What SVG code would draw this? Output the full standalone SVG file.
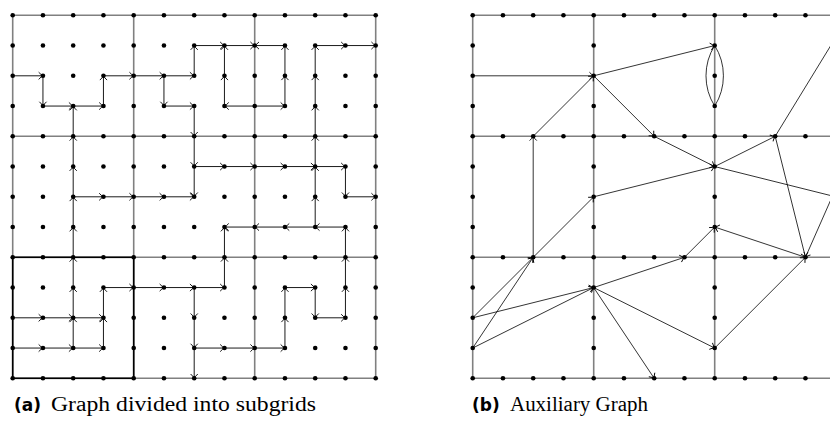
<svg xmlns="http://www.w3.org/2000/svg" width="830" height="424" viewBox="0 0 830 424">
<style>
.g{stroke:#808080;stroke-width:1.6;fill:none}
.bx{stroke:#000;stroke-width:1.6;fill:none}
.e line{stroke:#000;stroke-width:0.9;marker-end:url(#ar)}
.f line,.f path{stroke:#000;stroke-width:0.8;fill:none}
.f .a{marker-end:url(#ar)}
.n circle{fill:#000}
.cs{font-family:"DejaVu Sans","Liberation Sans",sans-serif;font-weight:bold;font-size:17px}
.ct{font-family:"Liberation Serif","DejaVu Serif",serif;font-size:20px}
</style>
<defs>
<marker id="ar" markerUnits="userSpaceOnUse" markerWidth="12" markerHeight="12" viewBox="-6 -6 12 12" refX="0" refY="0" orient="auto">
<path d="M-4.3,-3.6 Q-1.6,-0.7 0,0 Q-1.6,0.7 -4.3,3.6" fill="none" stroke="#000" stroke-width="0.9"/>
</marker>
</defs>
<!-- left grid subgrid lines -->
<g id="gridA">
<path class="g" d="M12.7,15.3H375.7M12.7,136.3H375.7M12.7,257.3H375.7M12.7,378.3H375.7M12.7,15.3V378.3M133.7,15.3V378.3M254.7,15.3V378.3M375.7,15.3V378.3"/>
<rect class="bx" x="12.7" y="257.3" width="121" height="121"/>
</g>
<!-- right grid subgrid lines -->
<g id="gridB">
<path class="g" d="M472.7,15.3H836M472.7,136.3H836M472.7,257.3H836M472.7,378.3H836M472.7,15.3V378.3M593.7,15.3V378.3M714.7,15.3V378.3"/>
</g>
<!-- left connectors -->
<g id="edgesA" class="e">
<line x1="12.7" y1="75.8" x2="42.95" y2="75.8"/>
<line x1="42.95" y1="75.8" x2="42.95" y2="106.05"/>
<line x1="42.95" y1="106.05" x2="73.2" y2="106.05"/>
<line x1="73.2" y1="106.05" x2="103.45" y2="106.05"/>
<line x1="103.45" y1="106.05" x2="103.45" y2="75.8"/>
<line x1="103.45" y1="75.8" x2="133.7" y2="75.8"/>
<line x1="133.7" y1="75.8" x2="163.95" y2="75.8"/>
<line x1="163.95" y1="75.8" x2="194.2" y2="75.8"/>
<line x1="163.95" y1="75.8" x2="163.95" y2="106.05"/>
<line x1="163.95" y1="106.05" x2="194.2" y2="106.05"/>
<line x1="194.2" y1="75.8" x2="194.2" y2="45.55"/>
<line x1="194.2" y1="45.55" x2="224.45" y2="45.55"/>
<line x1="224.45" y1="45.55" x2="254.7" y2="45.55"/>
<line x1="284.95" y1="45.55" x2="254.7" y2="45.55"/>
<line x1="224.45" y1="75.8" x2="224.45" y2="45.55"/>
<line x1="224.45" y1="106.05" x2="224.45" y2="75.8"/>
<line x1="254.7" y1="106.05" x2="224.45" y2="106.05"/>
<line x1="254.7" y1="106.05" x2="284.95" y2="106.05"/>
<line x1="284.95" y1="106.05" x2="284.95" y2="75.8"/>
<line x1="284.95" y1="75.8" x2="284.95" y2="45.55"/>
<line x1="315.2" y1="227.05" x2="315.2" y2="196.8"/>
<line x1="315.2" y1="196.8" x2="315.2" y2="166.55"/>
<line x1="315.2" y1="166.55" x2="315.2" y2="136.3"/>
<line x1="315.2" y1="136.3" x2="315.2" y2="106.05"/>
<line x1="315.2" y1="106.05" x2="315.2" y2="75.8"/>
<line x1="315.2" y1="75.8" x2="315.2" y2="45.55"/>
<line x1="315.2" y1="45.55" x2="345.45" y2="45.55"/>
<line x1="345.45" y1="45.55" x2="375.7" y2="45.55"/>
<line x1="73.2" y1="348.05" x2="73.2" y2="317.8"/>
<line x1="73.2" y1="317.8" x2="73.2" y2="287.55"/>
<line x1="73.2" y1="287.55" x2="73.2" y2="257.3"/>
<line x1="73.2" y1="257.3" x2="73.2" y2="227.05"/>
<line x1="73.2" y1="227.05" x2="73.2" y2="196.8"/>
<line x1="73.2" y1="196.8" x2="73.2" y2="166.55"/>
<line x1="73.2" y1="166.55" x2="73.2" y2="136.3"/>
<line x1="73.2" y1="136.3" x2="73.2" y2="106.05"/>
<line x1="73.2" y1="196.8" x2="103.45" y2="196.8"/>
<line x1="103.45" y1="196.8" x2="133.7" y2="196.8"/>
<line x1="133.7" y1="196.8" x2="163.95" y2="196.8"/>
<line x1="163.95" y1="196.8" x2="194.2" y2="196.8"/>
<line x1="194.2" y1="106.05" x2="194.2" y2="136.3"/>
<line x1="194.2" y1="136.3" x2="194.2" y2="166.55"/>
<line x1="194.2" y1="166.55" x2="194.2" y2="196.8"/>
<line x1="194.2" y1="166.55" x2="224.45" y2="166.55"/>
<line x1="224.45" y1="166.55" x2="254.7" y2="166.55"/>
<line x1="254.7" y1="166.55" x2="284.95" y2="166.55"/>
<line x1="284.95" y1="166.55" x2="315.2" y2="166.55"/>
<line x1="315.2" y1="166.55" x2="345.45" y2="166.55"/>
<line x1="345.45" y1="166.55" x2="345.45" y2="196.8"/>
<line x1="345.45" y1="196.8" x2="375.7" y2="196.8"/>
<line x1="12.7" y1="317.8" x2="42.95" y2="317.8"/>
<line x1="42.95" y1="317.8" x2="73.2" y2="317.8"/>
<line x1="73.2" y1="317.8" x2="103.45" y2="317.8"/>
<line x1="12.7" y1="348.05" x2="42.95" y2="348.05"/>
<line x1="42.95" y1="348.05" x2="73.2" y2="348.05"/>
<line x1="73.2" y1="348.05" x2="103.45" y2="348.05"/>
<line x1="103.45" y1="348.05" x2="103.45" y2="317.8"/>
<line x1="103.45" y1="317.8" x2="103.45" y2="287.55"/>
<line x1="103.45" y1="287.55" x2="133.7" y2="287.55"/>
<line x1="133.7" y1="287.55" x2="163.95" y2="287.55"/>
<line x1="163.95" y1="287.55" x2="194.2" y2="287.55"/>
<line x1="194.2" y1="287.55" x2="194.2" y2="317.8"/>
<line x1="194.2" y1="317.8" x2="194.2" y2="348.05"/>
<line x1="194.2" y1="348.05" x2="194.2" y2="378.3"/>
<line x1="194.2" y1="287.55" x2="224.45" y2="287.55"/>
<line x1="224.45" y1="287.55" x2="224.45" y2="257.3"/>
<line x1="224.45" y1="257.3" x2="224.45" y2="227.05"/>
<line x1="345.45" y1="227.05" x2="315.2" y2="227.05"/>
<line x1="315.2" y1="227.05" x2="284.95" y2="227.05"/>
<line x1="284.95" y1="227.05" x2="254.7" y2="227.05"/>
<line x1="254.7" y1="227.05" x2="224.45" y2="227.05"/>
<line x1="194.2" y1="348.05" x2="224.45" y2="348.05"/>
<line x1="224.45" y1="348.05" x2="254.7" y2="348.05"/>
<line x1="254.7" y1="348.05" x2="284.95" y2="348.05"/>
<line x1="284.95" y1="348.05" x2="284.95" y2="317.8"/>
<line x1="284.95" y1="317.8" x2="284.95" y2="287.55"/>
<line x1="284.95" y1="287.55" x2="315.2" y2="287.55"/>
<line x1="315.2" y1="287.55" x2="315.2" y2="317.8"/>
<line x1="315.2" y1="317.8" x2="345.45" y2="317.8"/>
<line x1="345.45" y1="317.8" x2="345.45" y2="287.55"/>
<line x1="345.45" y1="287.55" x2="345.45" y2="257.3"/>
<line x1="345.45" y1="257.3" x2="345.45" y2="227.05"/>
</g>
<!-- right connectors -->
<g id="edgesB" class="f">
<line class="a" x1="472.7" y1="75.8" x2="593.7" y2="75.8"/>
<line class="a" x1="533.2" y1="136.3" x2="593.7" y2="75.8"/>
<line class="a" x1="593.7" y1="75.8" x2="714.7" y2="45.55"/>
<line class="a" x1="593.7" y1="75.8" x2="654.2" y2="136.3"/>
<path d="M714.7,45.55 A56.9,56.9 0 0 0 714.7,106.05"/>
<path d="M714.7,45.55 A56.9,56.9 0 0 1 714.7,106.05"/>
<line class="a" x1="654.2" y1="136.3" x2="714.7" y2="166.55"/>
<line class="a" x1="714.7" y1="166.55" x2="775.2" y2="136.3"/>
<line x1="775.2" y1="136.3" x2="836" y2="37"/>
<line x1="714.7" y1="166.55" x2="835.7" y2="196.8"/>
<line class="a" x1="836" y1="188" x2="805.45" y2="257.3"/>
<line class="a" x1="775.2" y1="136.3" x2="805.45" y2="257.3"/>
<line class="a" x1="805.45" y1="257.3" x2="714.7" y2="227.05"/>
<line class="a" x1="684.45" y1="257.3" x2="714.7" y2="227.05"/>
<line class="a" x1="593.7" y1="287.55" x2="684.45" y2="257.3"/>
<line class="a" x1="593.7" y1="287.55" x2="714.7" y2="348.05"/>
<line class="a" x1="714.7" y1="348.05" x2="805.45" y2="257.3"/>
<line class="a" x1="593.7" y1="287.55" x2="654.2" y2="378.3"/>
<line class="a" x1="472.7" y1="317.8" x2="593.7" y2="287.55"/>
<line class="a" x1="472.7" y1="348.05" x2="593.7" y2="287.55"/>
<line class="a" x1="472.7" y1="317.8" x2="533.2" y2="257.3"/>
<line class="a" x1="472.7" y1="348.05" x2="533.2" y2="257.3"/>
<line class="a" x1="533.2" y1="257.3" x2="593.7" y2="196.8"/>
<line class="a" x1="593.7" y1="196.8" x2="714.7" y2="166.55"/>
<line class="a" x1="533.2" y1="257.3" x2="533.2" y2="136.3"/>
</g>
<!-- left nodes -->
<g class="n">
<g id="a0_0"><circle cx="12.7" cy="15.3" r="2.3"/></g><g id="a1_0"><circle cx="42.95" cy="15.3" r="2.3"/></g><g id="a2_0"><circle cx="73.2" cy="15.3" r="2.3"/></g><g id="a3_0"><circle cx="103.45" cy="15.3" r="2.3"/></g><g id="a4_0"><circle cx="133.7" cy="15.3" r="2.3"/></g><g id="a5_0"><circle cx="163.95" cy="15.3" r="2.3"/></g><g id="a6_0"><circle cx="194.2" cy="15.3" r="2.3"/></g><g id="a7_0"><circle cx="224.45" cy="15.3" r="2.3"/></g><g id="a8_0"><circle cx="254.7" cy="15.3" r="2.3"/></g><g id="a9_0"><circle cx="284.95" cy="15.3" r="2.3"/></g><g id="a10_0"><circle cx="315.2" cy="15.3" r="2.3"/></g><g id="a11_0"><circle cx="345.45" cy="15.3" r="2.3"/></g><g id="a12_0"><circle cx="375.7" cy="15.3" r="2.3"/></g>
<g id="a0_1"><circle cx="12.7" cy="45.55" r="2.3"/></g><g id="a1_1"><circle cx="42.95" cy="45.55" r="2.3"/></g><g id="a2_1"><circle cx="73.2" cy="45.55" r="2.3"/></g><g id="a3_1"><circle cx="103.45" cy="45.55" r="2.3"/></g><g id="a4_1"><circle cx="133.7" cy="45.55" r="2.3"/></g><g id="a5_1"><circle cx="163.95" cy="45.55" r="2.3"/></g><g id="a6_1"><circle cx="194.2" cy="45.55" r="2.3"/></g><g id="a7_1"><circle cx="224.45" cy="45.55" r="2.3"/></g><g id="a8_1"><circle cx="254.7" cy="45.55" r="2.3"/></g><g id="a9_1"><circle cx="284.95" cy="45.55" r="2.3"/></g><g id="a10_1"><circle cx="315.2" cy="45.55" r="2.3"/></g><g id="a11_1"><circle cx="345.45" cy="45.55" r="2.3"/></g><g id="a12_1"><circle cx="375.7" cy="45.55" r="2.3"/></g>
<g id="a0_2"><circle cx="12.7" cy="75.8" r="2.3"/></g><g id="a1_2"><circle cx="42.95" cy="75.8" r="2.3"/></g><g id="a2_2"><circle cx="73.2" cy="75.8" r="2.3"/></g><g id="a3_2"><circle cx="103.45" cy="75.8" r="2.3"/></g><g id="a4_2"><circle cx="133.7" cy="75.8" r="2.3"/></g><g id="a5_2"><circle cx="163.95" cy="75.8" r="2.3"/></g><g id="a6_2"><circle cx="194.2" cy="75.8" r="2.3"/></g><g id="a7_2"><circle cx="224.45" cy="75.8" r="2.3"/></g><g id="a8_2"><circle cx="254.7" cy="75.8" r="2.3"/></g><g id="a9_2"><circle cx="284.95" cy="75.8" r="2.3"/></g><g id="a10_2"><circle cx="315.2" cy="75.8" r="2.3"/></g><g id="a11_2"><circle cx="345.45" cy="75.8" r="2.3"/></g><g id="a12_2"><circle cx="375.7" cy="75.8" r="2.3"/></g>
<g id="a0_3"><circle cx="12.7" cy="106.05" r="2.3"/></g><g id="a1_3"><circle cx="42.95" cy="106.05" r="2.3"/></g><g id="a2_3"><circle cx="73.2" cy="106.05" r="2.3"/></g><g id="a3_3"><circle cx="103.45" cy="106.05" r="2.3"/></g><g id="a4_3"><circle cx="133.7" cy="106.05" r="2.3"/></g><g id="a5_3"><circle cx="163.95" cy="106.05" r="2.3"/></g><g id="a6_3"><circle cx="194.2" cy="106.05" r="2.3"/></g><g id="a7_3"><circle cx="224.45" cy="106.05" r="2.3"/></g><g id="a8_3"><circle cx="254.7" cy="106.05" r="2.3"/></g><g id="a9_3"><circle cx="284.95" cy="106.05" r="2.3"/></g><g id="a10_3"><circle cx="315.2" cy="106.05" r="2.3"/></g><g id="a11_3"><circle cx="345.45" cy="106.05" r="2.3"/></g><g id="a12_3"><circle cx="375.7" cy="106.05" r="2.3"/></g>
<g id="a0_4"><circle cx="12.7" cy="136.3" r="2.3"/></g><g id="a1_4"><circle cx="42.95" cy="136.3" r="2.3"/></g><g id="a2_4"><circle cx="73.2" cy="136.3" r="2.3"/></g><g id="a3_4"><circle cx="103.45" cy="136.3" r="2.3"/></g><g id="a4_4"><circle cx="133.7" cy="136.3" r="2.3"/></g><g id="a5_4"><circle cx="163.95" cy="136.3" r="2.3"/></g><g id="a6_4"><circle cx="194.2" cy="136.3" r="2.3"/></g><g id="a7_4"><circle cx="224.45" cy="136.3" r="2.3"/></g><g id="a8_4"><circle cx="254.7" cy="136.3" r="2.3"/></g><g id="a9_4"><circle cx="284.95" cy="136.3" r="2.3"/></g><g id="a10_4"><circle cx="315.2" cy="136.3" r="2.3"/></g><g id="a11_4"><circle cx="345.45" cy="136.3" r="2.3"/></g><g id="a12_4"><circle cx="375.7" cy="136.3" r="2.3"/></g>
<g id="a0_5"><circle cx="12.7" cy="166.55" r="2.3"/></g><g id="a1_5"><circle cx="42.95" cy="166.55" r="2.3"/></g><g id="a2_5"><circle cx="73.2" cy="166.55" r="2.3"/></g><g id="a3_5"><circle cx="103.45" cy="166.55" r="2.3"/></g><g id="a4_5"><circle cx="133.7" cy="166.55" r="2.3"/></g><g id="a5_5"><circle cx="163.95" cy="166.55" r="2.3"/></g><g id="a6_5"><circle cx="194.2" cy="166.55" r="2.3"/></g><g id="a7_5"><circle cx="224.45" cy="166.55" r="2.3"/></g><g id="a8_5"><circle cx="254.7" cy="166.55" r="2.3"/></g><g id="a9_5"><circle cx="284.95" cy="166.55" r="2.3"/></g><g id="a10_5"><circle cx="315.2" cy="166.55" r="2.3"/></g><g id="a11_5"><circle cx="345.45" cy="166.55" r="2.3"/></g><g id="a12_5"><circle cx="375.7" cy="166.55" r="2.3"/></g>
<g id="a0_6"><circle cx="12.7" cy="196.8" r="2.3"/></g><g id="a1_6"><circle cx="42.95" cy="196.8" r="2.3"/></g><g id="a2_6"><circle cx="73.2" cy="196.8" r="2.3"/></g><g id="a3_6"><circle cx="103.45" cy="196.8" r="2.3"/></g><g id="a4_6"><circle cx="133.7" cy="196.8" r="2.3"/></g><g id="a5_6"><circle cx="163.95" cy="196.8" r="2.3"/></g><g id="a6_6"><circle cx="194.2" cy="196.8" r="2.3"/></g><g id="a7_6"><circle cx="224.45" cy="196.8" r="2.3"/></g><g id="a8_6"><circle cx="254.7" cy="196.8" r="2.3"/></g><g id="a9_6"><circle cx="284.95" cy="196.8" r="2.3"/></g><g id="a10_6"><circle cx="315.2" cy="196.8" r="2.3"/></g><g id="a11_6"><circle cx="345.45" cy="196.8" r="2.3"/></g><g id="a12_6"><circle cx="375.7" cy="196.8" r="2.3"/></g>
<g id="a0_7"><circle cx="12.7" cy="227.05" r="2.3"/></g><g id="a1_7"><circle cx="42.95" cy="227.05" r="2.3"/></g><g id="a2_7"><circle cx="73.2" cy="227.05" r="2.3"/></g><g id="a3_7"><circle cx="103.45" cy="227.05" r="2.3"/></g><g id="a4_7"><circle cx="133.7" cy="227.05" r="2.3"/></g><g id="a5_7"><circle cx="163.95" cy="227.05" r="2.3"/></g><g id="a6_7"><circle cx="194.2" cy="227.05" r="2.3"/></g><g id="a7_7"><circle cx="224.45" cy="227.05" r="2.3"/></g><g id="a8_7"><circle cx="254.7" cy="227.05" r="2.3"/></g><g id="a9_7"><circle cx="284.95" cy="227.05" r="2.3"/></g><g id="a10_7"><circle cx="315.2" cy="227.05" r="2.3"/></g><g id="a11_7"><circle cx="345.45" cy="227.05" r="2.3"/></g><g id="a12_7"><circle cx="375.7" cy="227.05" r="2.3"/></g>
<g id="a0_8"><circle cx="12.7" cy="257.3" r="2.3"/></g><g id="a1_8"><circle cx="42.95" cy="257.3" r="2.3"/></g><g id="a2_8"><circle cx="73.2" cy="257.3" r="2.3"/></g><g id="a3_8"><circle cx="103.45" cy="257.3" r="2.3"/></g><g id="a4_8"><circle cx="133.7" cy="257.3" r="2.3"/></g><g id="a5_8"><circle cx="163.95" cy="257.3" r="2.3"/></g><g id="a6_8"><circle cx="194.2" cy="257.3" r="2.3"/></g><g id="a7_8"><circle cx="224.45" cy="257.3" r="2.3"/></g><g id="a8_8"><circle cx="254.7" cy="257.3" r="2.3"/></g><g id="a9_8"><circle cx="284.95" cy="257.3" r="2.3"/></g><g id="a10_8"><circle cx="315.2" cy="257.3" r="2.3"/></g><g id="a11_8"><circle cx="345.45" cy="257.3" r="2.3"/></g><g id="a12_8"><circle cx="375.7" cy="257.3" r="2.3"/></g>
<g id="a0_9"><circle cx="12.7" cy="287.55" r="2.3"/></g><g id="a1_9"><circle cx="42.95" cy="287.55" r="2.3"/></g><g id="a2_9"><circle cx="73.2" cy="287.55" r="2.3"/></g><g id="a3_9"><circle cx="103.45" cy="287.55" r="2.3"/></g><g id="a4_9"><circle cx="133.7" cy="287.55" r="2.3"/></g><g id="a5_9"><circle cx="163.95" cy="287.55" r="2.3"/></g><g id="a6_9"><circle cx="194.2" cy="287.55" r="2.3"/></g><g id="a7_9"><circle cx="224.45" cy="287.55" r="2.3"/></g><g id="a8_9"><circle cx="254.7" cy="287.55" r="2.3"/></g><g id="a9_9"><circle cx="284.95" cy="287.55" r="2.3"/></g><g id="a10_9"><circle cx="315.2" cy="287.55" r="2.3"/></g><g id="a11_9"><circle cx="345.45" cy="287.55" r="2.3"/></g><g id="a12_9"><circle cx="375.7" cy="287.55" r="2.3"/></g>
<g id="a0_10"><circle cx="12.7" cy="317.8" r="2.3"/></g><g id="a1_10"><circle cx="42.95" cy="317.8" r="2.3"/></g><g id="a2_10"><circle cx="73.2" cy="317.8" r="2.3"/></g><g id="a3_10"><circle cx="103.45" cy="317.8" r="2.3"/></g><g id="a4_10"><circle cx="133.7" cy="317.8" r="2.3"/></g><g id="a5_10"><circle cx="163.95" cy="317.8" r="2.3"/></g><g id="a6_10"><circle cx="194.2" cy="317.8" r="2.3"/></g><g id="a7_10"><circle cx="224.45" cy="317.8" r="2.3"/></g><g id="a8_10"><circle cx="254.7" cy="317.8" r="2.3"/></g><g id="a9_10"><circle cx="284.95" cy="317.8" r="2.3"/></g><g id="a10_10"><circle cx="315.2" cy="317.8" r="2.3"/></g><g id="a11_10"><circle cx="345.45" cy="317.8" r="2.3"/></g><g id="a12_10"><circle cx="375.7" cy="317.8" r="2.3"/></g>
<g id="a0_11"><circle cx="12.7" cy="348.05" r="2.3"/></g><g id="a1_11"><circle cx="42.95" cy="348.05" r="2.3"/></g><g id="a2_11"><circle cx="73.2" cy="348.05" r="2.3"/></g><g id="a3_11"><circle cx="103.45" cy="348.05" r="2.3"/></g><g id="a4_11"><circle cx="133.7" cy="348.05" r="2.3"/></g><g id="a5_11"><circle cx="163.95" cy="348.05" r="2.3"/></g><g id="a6_11"><circle cx="194.2" cy="348.05" r="2.3"/></g><g id="a7_11"><circle cx="224.45" cy="348.05" r="2.3"/></g><g id="a8_11"><circle cx="254.7" cy="348.05" r="2.3"/></g><g id="a9_11"><circle cx="284.95" cy="348.05" r="2.3"/></g><g id="a10_11"><circle cx="315.2" cy="348.05" r="2.3"/></g><g id="a11_11"><circle cx="345.45" cy="348.05" r="2.3"/></g><g id="a12_11"><circle cx="375.7" cy="348.05" r="2.3"/></g>
<g id="a0_12"><circle cx="12.7" cy="378.3" r="2.3"/></g><g id="a1_12"><circle cx="42.95" cy="378.3" r="2.3"/></g><g id="a2_12"><circle cx="73.2" cy="378.3" r="2.3"/></g><g id="a3_12"><circle cx="103.45" cy="378.3" r="2.3"/></g><g id="a4_12"><circle cx="133.7" cy="378.3" r="2.3"/></g><g id="a5_12"><circle cx="163.95" cy="378.3" r="2.3"/></g><g id="a6_12"><circle cx="194.2" cy="378.3" r="2.3"/></g><g id="a7_12"><circle cx="224.45" cy="378.3" r="2.3"/></g><g id="a8_12"><circle cx="254.7" cy="378.3" r="2.3"/></g><g id="a9_12"><circle cx="284.95" cy="378.3" r="2.3"/></g><g id="a10_12"><circle cx="315.2" cy="378.3" r="2.3"/></g><g id="a11_12"><circle cx="345.45" cy="378.3" r="2.3"/></g><g id="a12_12"><circle cx="375.7" cy="378.3" r="2.3"/></g>
</g>
<!-- right nodes -->
<g class="n">
<g id="b0_0"><circle cx="472.7" cy="15.3" r="2.3"/></g><g id="b1_0"><circle cx="502.95" cy="15.3" r="2.3"/></g><g id="b2_0"><circle cx="533.2" cy="15.3" r="2.3"/></g><g id="b3_0"><circle cx="563.45" cy="15.3" r="2.3"/></g><g id="b4_0"><circle cx="593.7" cy="15.3" r="2.3"/></g><g id="b5_0"><circle cx="623.95" cy="15.3" r="2.3"/></g><g id="b6_0"><circle cx="654.2" cy="15.3" r="2.3"/></g><g id="b7_0"><circle cx="684.45" cy="15.3" r="2.3"/></g><g id="b8_0"><circle cx="714.7" cy="15.3" r="2.3"/></g><g id="b9_0"><circle cx="744.95" cy="15.3" r="2.3"/></g><g id="b10_0"><circle cx="775.2" cy="15.3" r="2.3"/></g><g id="b11_0"><circle cx="805.45" cy="15.3" r="2.3"/></g>
<g id="b0_4"><circle cx="472.7" cy="136.3" r="2.3"/></g><g id="b1_4"><circle cx="502.95" cy="136.3" r="2.3"/></g><g id="b2_4"><circle cx="533.2" cy="136.3" r="2.3"/></g><g id="b3_4"><circle cx="563.45" cy="136.3" r="2.3"/></g><g id="b4_4"><circle cx="593.7" cy="136.3" r="2.3"/></g><g id="b5_4"><circle cx="623.95" cy="136.3" r="2.3"/></g><g id="b6_4"><circle cx="654.2" cy="136.3" r="2.3"/></g><g id="b7_4"><circle cx="684.45" cy="136.3" r="2.3"/></g><g id="b8_4"><circle cx="714.7" cy="136.3" r="2.3"/></g><g id="b9_4"><circle cx="744.95" cy="136.3" r="2.3"/></g><g id="b10_4"><circle cx="775.2" cy="136.3" r="2.3"/></g><g id="b11_4"><circle cx="805.45" cy="136.3" r="2.3"/></g>
<g id="b0_8"><circle cx="472.7" cy="257.3" r="2.3"/></g><g id="b1_8"><circle cx="502.95" cy="257.3" r="2.3"/></g><g id="b2_8"><circle cx="533.2" cy="257.3" r="2.3"/></g><g id="b3_8"><circle cx="563.45" cy="257.3" r="2.3"/></g><g id="b4_8"><circle cx="593.7" cy="257.3" r="2.3"/></g><g id="b5_8"><circle cx="623.95" cy="257.3" r="2.3"/></g><g id="b6_8"><circle cx="654.2" cy="257.3" r="2.3"/></g><g id="b7_8"><circle cx="684.45" cy="257.3" r="2.3"/></g><g id="b8_8"><circle cx="714.7" cy="257.3" r="2.3"/></g><g id="b9_8"><circle cx="744.95" cy="257.3" r="2.3"/></g><g id="b10_8"><circle cx="775.2" cy="257.3" r="2.3"/></g><g id="b11_8"><circle cx="805.45" cy="257.3" r="2.3"/></g>
<g id="b0_12"><circle cx="472.7" cy="378.3" r="2.3"/></g><g id="b1_12"><circle cx="502.95" cy="378.3" r="2.3"/></g><g id="b2_12"><circle cx="533.2" cy="378.3" r="2.3"/></g><g id="b3_12"><circle cx="563.45" cy="378.3" r="2.3"/></g><g id="b4_12"><circle cx="593.7" cy="378.3" r="2.3"/></g><g id="b5_12"><circle cx="623.95" cy="378.3" r="2.3"/></g><g id="b6_12"><circle cx="654.2" cy="378.3" r="2.3"/></g><g id="b7_12"><circle cx="684.45" cy="378.3" r="2.3"/></g><g id="b8_12"><circle cx="714.7" cy="378.3" r="2.3"/></g><g id="b9_12"><circle cx="744.95" cy="378.3" r="2.3"/></g><g id="b10_12"><circle cx="775.2" cy="378.3" r="2.3"/></g><g id="b11_12"><circle cx="805.45" cy="378.3" r="2.3"/></g>
<g id="b0_1"><circle cx="472.7" cy="45.55" r="2.3"/></g><g id="b0_2"><circle cx="472.7" cy="75.8" r="2.3"/></g><g id="b0_3"><circle cx="472.7" cy="106.05" r="2.3"/></g><g id="b0_5"><circle cx="472.7" cy="166.55" r="2.3"/></g><g id="b0_6"><circle cx="472.7" cy="196.8" r="2.3"/></g><g id="b0_7"><circle cx="472.7" cy="227.05" r="2.3"/></g><g id="b0_9"><circle cx="472.7" cy="287.55" r="2.3"/></g><g id="b0_10"><circle cx="472.7" cy="317.8" r="2.3"/></g><g id="b0_11"><circle cx="472.7" cy="348.05" r="2.3"/></g>
<g id="b4_1"><circle cx="593.7" cy="45.55" r="2.3"/></g><g id="b4_2"><circle cx="593.7" cy="75.8" r="2.3"/></g><g id="b4_3"><circle cx="593.7" cy="106.05" r="2.3"/></g><g id="b4_5"><circle cx="593.7" cy="166.55" r="2.3"/></g><g id="b4_6"><circle cx="593.7" cy="196.8" r="2.3"/></g><g id="b4_7"><circle cx="593.7" cy="227.05" r="2.3"/></g><g id="b4_9"><circle cx="593.7" cy="287.55" r="2.3"/></g><g id="b4_10"><circle cx="593.7" cy="317.8" r="2.3"/></g><g id="b4_11"><circle cx="593.7" cy="348.05" r="2.3"/></g>
<g id="b8_1"><circle cx="714.7" cy="45.55" r="2.3"/></g><g id="b8_2"><circle cx="714.7" cy="75.8" r="2.3"/></g><g id="b8_3"><circle cx="714.7" cy="106.05" r="2.3"/></g><g id="b8_5"><circle cx="714.7" cy="166.55" r="2.3"/></g><g id="b8_6"><circle cx="714.7" cy="196.8" r="2.3"/></g><g id="b8_7"><circle cx="714.7" cy="227.05" r="2.3"/></g><g id="b8_9"><circle cx="714.7" cy="287.55" r="2.3"/></g><g id="b8_10"><circle cx="714.7" cy="317.8" r="2.3"/></g><g id="b8_11"><circle cx="714.7" cy="348.05" r="2.3"/></g>
</g>
<!-- captions -->
<g id="captionA"><text class="cs" x="14" y="411">(a)</text><text class="ct" x="51" y="411" textLength="265" lengthAdjust="spacingAndGlyphs">Graph divided into subgrids</text></g>
<g id="captionB"><text class="cs" x="472" y="411">(b)</text><text class="ct" x="510" y="411" textLength="138" lengthAdjust="spacingAndGlyphs">Auxiliary Graph</text></g>
</svg>
